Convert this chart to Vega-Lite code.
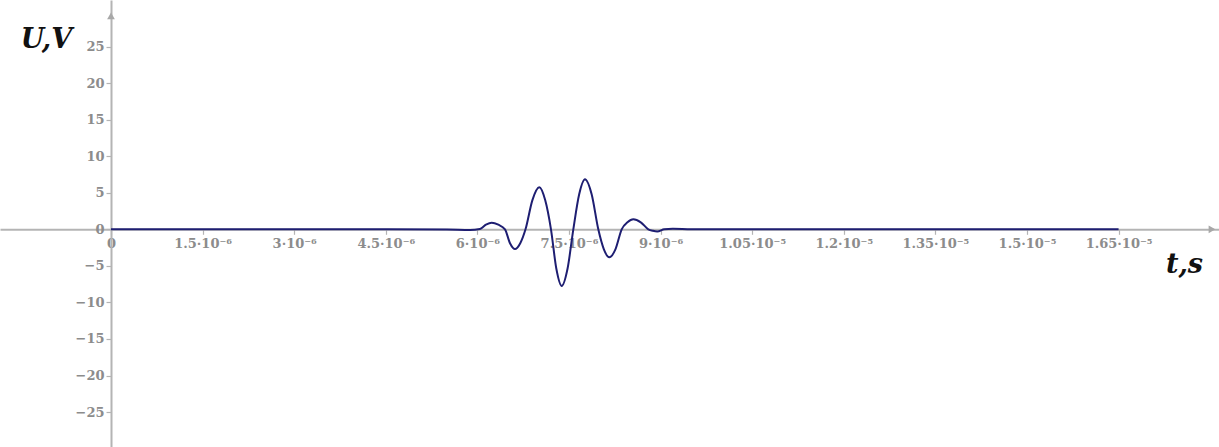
{
  "$schema": "https://vega.github.io/schema/vega-lite/v6.json",
  "width": 1219,
  "height": 447,
  "autosize": {"type": "none"},
  "padding": 0,
  "background": "white",
  "config": {"view": {"stroke": null}},
  "encoding": {
    "x": {
      "field": "t", "type": "quantitative",
      "scale": {"domain": [-1.8177e-6, 1.81446e-5], "nice": false, "zero": false},
      "axis": {
        "orient": "bottom", "offset": -217.7,
        "values": [0, 1.5e-6, 3e-6, 4.5e-6, 6e-6, 7.5e-6, 9e-6, 1.05e-5, 1.2e-5, 1.35e-5, 1.5e-5, 1.65e-5],
        "labelExpr": "datum.value == 0 ? '0' : (datum.value < 1e-5 ? format(datum.value*1e6,'.3~') + '·10⁻⁶' : format(datum.value*1e5,'.3~') + '·10⁻⁵')",
        "grid": false, "domainColor": "#b4b4b4", "domainWidth": 2,
        "tickColor": "#b4b4b4", "tickSize": 5, "tickWidth": 1.2,
        "labelFont": "DejaVu Serif", "labelFontSize": 13, "labelFontWeight": "bold", "labelColor": "#8c8c8c", "labelPadding": 3,
        "labelOverlap": false, "labelFlush": false,
        "title": "t,s", "titleFont": "DejaVu Serif", "titleFontSize": 27, "titleFontStyle": "italic", "titleFontWeight": "bold",
        "titleColor": "#111111", "titleX": 1184, "titleY": 43, "titleAlign": "center", "titleBaseline": "alphabetic", "titleAnchor": null
      }
    },
    "y": {
      "field": "v", "type": "quantitative",
      "scale": {"domain": [-29.78, 31.37], "nice": false, "zero": false},
      "axis": {
        "orient": "left", "offset": -111,
        "values": [-25, -20, -15, -10, -5, 0, 5, 10, 15, 20, 25],
        "labelExpr": "datum.value < 0 ? '−' + abs(datum.value) : datum.label",
        "grid": false, "domainColor": "#b4b4b4", "domainWidth": 2,
        "tickColor": "#b4b4b4", "tickSize": 5, "tickWidth": 1.2,
        "labelFont": "DejaVu Serif", "labelFontSize": 13, "labelFontWeight": "bold", "labelColor": "#8c8c8c", "labelPadding": 2,
        "labelOverlap": false, "labelFlush": false,
        "title": "U,V", "titleFont": "DejaVu Serif", "titleFontSize": 27, "titleFontStyle": "italic", "titleFontWeight": "bold",
        "titleColor": "#111111", "titleAngle": 0, "titleX": -65, "titleY": 47, "titleAlign": "center", "titleBaseline": "alphabetic", "titleAnchor": null
      }
    }
  },
  "layer": [
    {
      "data": {"values": [
        {"t": 1.803e-5, "v": 0, "shape": "triangle-right"},
        {"t": 0, "v": 29.2, "shape": "triangle-up"}
      ]},
      "mark": {"type": "point", "filled": true, "color": "#a8a8a8", "size": 60, "opacity": 1},
      "encoding": {"shape": {"field": "shape", "type": "nominal", "scale": null}}
    },
    {
      "data": {"values": [
        {"t": 0, "v": 0},
        {"t": 1.5e-6, "v": 0},
        {"t": 3e-6, "v": 0},
        {"t": 4.5e-6, "v": 0},
        {"t": 5.5e-6, "v": -0.03},
        {"t": 5.88e-6, "v": -0.1},
        {"t": 6.04e-6, "v": 0.05},
        {"t": 6.14e-6, "v": 0.63},
        {"t": 6.234e-6, "v": 0.9},
        {"t": 6.343e-6, "v": 0.63},
        {"t": 6.452e-6, "v": 0},
        {"t": 6.534e-6, "v": -1.9},
        {"t": 6.616e-6, "v": -2.7},
        {"t": 6.702e-6, "v": -1.9},
        {"t": 6.788e-6, "v": 0},
        {"t": 6.901e-6, "v": 4.0},
        {"t": 7.014e-6, "v": 5.75},
        {"t": 7.11e-6, "v": 4.0},
        {"t": 7.205e-6, "v": 0},
        {"t": 7.293e-6, "v": -5.4},
        {"t": 7.381e-6, "v": -7.75},
        {"t": 7.476e-6, "v": -5.4},
        {"t": 7.571e-6, "v": 0},
        {"t": 7.667e-6, "v": 4.8},
        {"t": 7.762e-6, "v": 6.84},
        {"t": 7.871e-6, "v": 4.8},
        {"t": 7.98e-6, "v": 0},
        {"t": 8.07e-6, "v": -2.7},
        {"t": 8.16e-6, "v": -3.83},
        {"t": 8.262e-6, "v": -2.7},
        {"t": 8.363e-6, "v": 0},
        {"t": 8.458e-6, "v": 0.96},
        {"t": 8.553e-6, "v": 1.37},
        {"t": 8.676e-6, "v": 0.96},
        {"t": 8.799e-6, "v": 0},
        {"t": 8.873e-6, "v": -0.21},
        {"t": 8.946e-6, "v": -0.3},
        {"t": 9.06e-6, "v": 0},
        {"t": 9.2e-6, "v": 0.08},
        {"t": 9.5e-6, "v": 0.02},
        {"t": 1.05e-5, "v": 0},
        {"t": 1.65e-5, "v": 0}
      ]},
      "mark": {"type": "line", "color": "#1e1e72", "strokeWidth": 2, "interpolate": "monotone"}
    }
  ]
}
